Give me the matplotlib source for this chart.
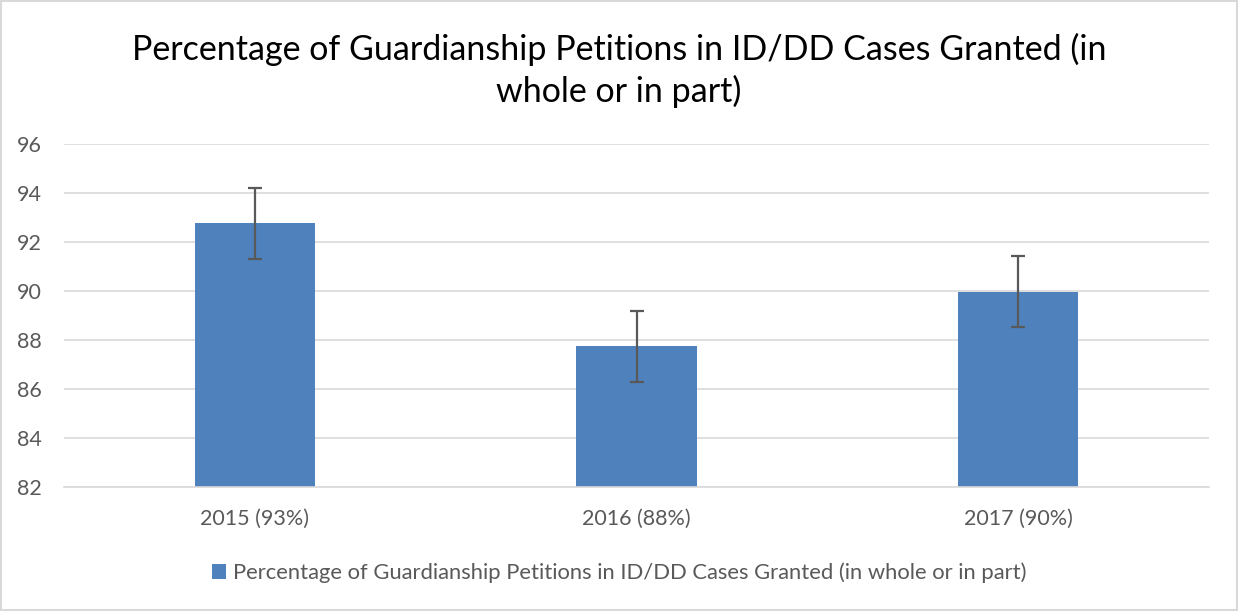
import matplotlib
matplotlib.use("Agg")
import matplotlib.pyplot as plt
from matplotlib.patches import Rectangle

categories = ["2015 (93%)", "2016 (88%)", "2017 (90%)"]
values = [92.77, 87.74, 89.98]
errors = [1.46, 1.45, 1.46]
yticks = [82, 84, 86, 88, 90, 92, 94, 96]
title = "Percentage of Guardianship Petitions in ID/DD Cases Granted (in\nwhole or in part)"
series_name = "Percentage of Guardianship Petitions in ID/DD Cases Granted (in whole or in part)"

plt.rcParams['font.family'] = ['Lato', 'DejaVu Sans']

fig = plt.figure(figsize=(12.38, 6.11), dpi=100)
ax = fig.add_axes([0.0517, 0.203, 0.925, 0.561])

x = list(range(len(categories)))
bars = ax.bar(x, values, width=0.315, color="#4F81BD", label=series_name, zorder=2,
              bottom=0)
ax.errorbar(x, values, yerr=errors, fmt="none", ecolor="#595959", elinewidth=1.6,
            capsize=4.8, capthick=1.6, zorder=3)

ax.set_ylim(82, 96)
ax.set_xlim(-0.5, 2.5)
ax.set_yticks(yticks)
ax.set_xticks(x)
ax.set_xticklabels(categories)
ax.yaxis.grid(True, color="#D9D9D9", linewidth=1.2, zorder=0)
ax.set_axisbelow(True)
for s in ["top", "right", "left"]:
    ax.spines[s].set_visible(False)
ax.spines["bottom"].set_color("#D9D9D9")
ax.spines["bottom"].set_linewidth(1.2)
ax.tick_params(axis="both", length=0, labelsize=15.5, labelcolor="#595959")
ax.tick_params(axis="y", pad=16)
ax.tick_params(axis="x", pad=16)

fig.text(0.5, 0.885, title, ha="center", va="center", fontsize=24.5, color="#000000",
         linespacing=1.35)

fig.legend(handles=[bars], labels=[series_name], loc="center", bbox_to_anchor=(0.5, 0.062),
           frameon=False, fontsize=15.8, handlelength=0.65, handleheight=0.65,
           handletextpad=0.3, labelcolor="#595959")

fig.patches.append(Rectangle((0.0008, 0.0016), 0.9984, 0.9968, transform=fig.transFigure,
                             fill=False, edgecolor="#D9D9D9", linewidth=1.5))

fig.savefig("out.png", dpi=100, facecolor="white")
